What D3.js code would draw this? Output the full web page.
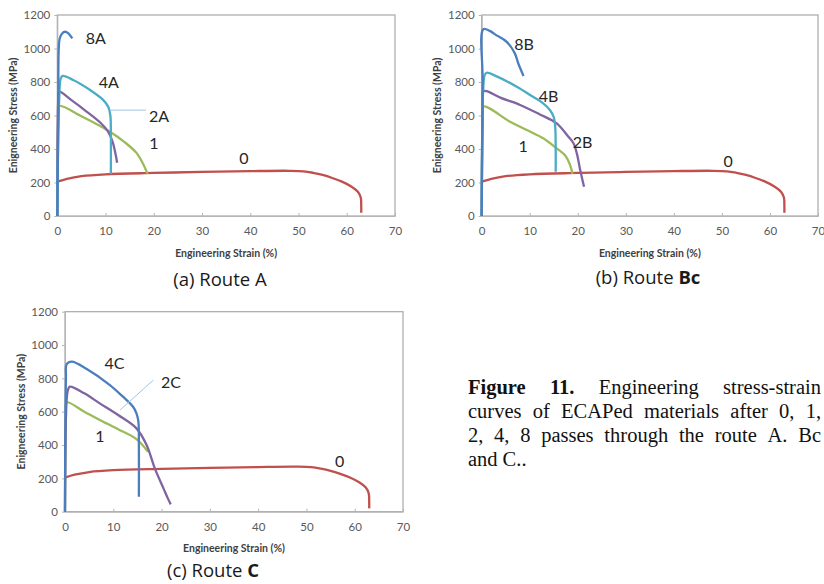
<!DOCTYPE html>
<html>
<head>
<meta charset="utf-8">
<script src="https://cdn.jsdelivr.net/npm/d3@7"></script>
<style>
  body { margin: 0; background: #fff; }
  svg { display: block; }
  .tick text { fill: #595959; font-family: Lato, "Open Sans", sans-serif; font-size: 11.5px; }
</style>
</head>
<body>
<svg width="824" height="584"></svg>
<script>
// axis ticks
const strainTicks = [0, 10, 20, 30, 40, 50, 60, 70]
const stressTicks = [0, 200, 400, 600, 800, 1000, 1200]

// [strain %, stress MPa]
const pass0 = [[0,205],[2,222],[5,238],[10,249],[20,257],[30,263],[40,268],[48,270],[51,267],[53,258],[55,245],[57,227],[59,205],[61,175],[62.3,145],[62.9,110],[63,60],[63,20]]

// route A
const a1 = [[0,0],[0.2,600],[0.35,657],[5,595],[10.9,503],[14,440],[16.5,374],[17.8,310],[18.7,251]]
const a2 = [[0,0],[0.2,700],[0.35,742],[3,690],[6,625],[9,555],[10.5,505],[11.5,440],[12,380],[12.4,318]]
const a4 = [[0,0],[0.4,700],[0.7,820],[1.1,836],[3.3,812],[6.8,752],[9.5,693],[10.6,649],[11.0,600],[11.1,500],[11.1,251]]
const a8 = [[0,0],[0.2,600],[0.3,1000],[0.5,1060],[1,1090],[1.6,1100],[2.3,1090],[3.1,1060]]

// route Bc
const b1 = [[0,0],[0.2,580],[0.35,653],[5.9,563],[9.5,512],[12.8,464],[15.6,404],[17.3,364],[18.4,304],[18.9,251]]
const b2 = [[0,0],[0.2,650],[0.35,745],[1,745],[4,705],[8,663],[12,608],[15.6,553],[18,475],[19.1,434],[19.8,374],[20.5,275],[21.3,175]]
const b4 = [[0,0],[0.3,750],[0.6,840],[1.0,855],[3,835],[7.3,772],[10.5,715],[12.8,673],[14.2,633],[15.0,590],[15.3,533],[15.4,400],[15.4,264]]
const b8 = [[0,0],[0.2,800],[0.35,1116],[1.7,1105],[3,1080],[5.2,1040],[6.9,971],[7.6,912],[8.2,870],[8.7,836]]

// route C
const c1 = [[0,0],[0.2,590],[0.35,656],[4,600],[7.2,550],[11,495],[14.8,436],[17.2,360]]
const c2 = [[0,0],[0.3,650],[0.6,730],[1.0,750],[4,710],[7.2,650],[11,580],[14.8,500],[16.9,400],[18.6,260],[20.4,140],[21.3,80],[21.9,44]]
const c4 = [[0,0],[0.2,800],[0.35,885],[1.4,900],[4.5,856],[9.3,760],[12,690],[14.1,630],[14.8,590],[15.2,540],[15.3,400],[15.3,90]]

// curve labels [text, strain, stress]
const labelsA = [['8A', 8.0, 1063], ['4A', 10.7, 800], ['2A', 21.1, 597], ['1', 20.0, 436], ['0', 38.7, 346]]
const labelsB = [['8B', 8.8, 1027], ['4B', 13.9, 716], ['2B', 21.0, 442], ['1', 8.6, 418], ['0', 51.3, 328]]
const labelsC = [['4C', 10.25, 890], ['2C', 21.95, 776], ['1', 7.25, 450], ['0', 56.9, 304]]

// leader lines [[strain, stress], [strain, stress]]
const leaderA = [[11.1, 632], [18.4, 632]]
const leaderC = [[11.4, 610], [18.3, 790]]

const captionLines = [
  ['Figure', '11.', 'Engineering', 'stress-strain'],
  ['curves', 'of', 'ECAPed', 'materials', 'after', '0,', '1,'],
  ['2,', '4,', '8', 'passes', 'through', 'the', 'route', 'A.', 'Bc'],
  ['and', 'C..']
]

const colors = { red: '#c0504d', green: '#9bbb59', purple: '#8064a2', cyan: '#4bacc6', blue: '#4a7ebf' }

const svg = d3.select('svg')

function drawPanel(cfg) {
  const g = svg.append('g')

  const x = d3.scaleLinear().domain([0, 70]).range([cfg.left, cfg.right])
  const y = d3.scaleLinear().domain([0, 1200]).range([cfg.bottom, cfg.top])

  // plot frame
  g.append('rect')
    .attr('x', cfg.left).attr('y', cfg.top)
    .attr('width', cfg.right - cfg.left).attr('height', cfg.bottom - cfg.top)
    .attr('fill', 'none').attr('stroke', '#a8a8a8').attr('stroke-width', 1.2)

  g.append('g')
    .attr('transform', `translate(0,${cfg.bottom})`)
    .call(d3.axisBottom(x).tickValues(strainTicks).tickFormat(d3.format('d'))
      .tickSizeInner(-3).tickSizeOuter(0).tickPadding(11))
    .call(a => a.selectAll('line, path').attr('stroke', '#b5b5b5'))

  g.append('g')
    .attr('transform', `translate(${cfg.left},0)`)
    .call(d3.axisLeft(y).tickValues(stressTicks).tickFormat(d3.format('d'))
      .tickSizeInner(3).tickSizeOuter(0).tickPadding(4))
    .call(a => a.selectAll('line, path').attr('stroke', '#b5b5b5'))

  const line = d3.line()
    .x(d => x(d[0]))
    .y(d => y(d[1]))
    .curve(d3.curveCatmullRom.alpha(0.5))

  cfg.series.forEach(s => {
    g.append('path')
      .attr('d', line(s.data))
      .attr('fill', 'none')
      .attr('stroke', s.color)
      .attr('stroke-width', 2.3)
      .attr('stroke-linejoin', 'round')
  })

  if (cfg.leader) {
    g.append('line')
      .attr('x1', x(cfg.leader[0][0])).attr('y1', y(cfg.leader[0][1]))
      .attr('x2', x(cfg.leader[1][0])).attr('y2', y(cfg.leader[1][1]))
      .attr('stroke', '#9fc6e4').attr('stroke-width', 1)
  }

  g.selectAll('.curve-label')
    .data(cfg.labels)
    .join('text')
    .attr('class', 'curve-label')
    .attr('x', d => x(d[1]))
    .attr('y', d => y(d[2]))
    .attr('dy', '0.36em')
    .attr('text-anchor', 'middle')
    .attr('font-family', 'Lato, "Open Sans", sans-serif')
    .attr('font-size', 16)
    .attr('fill', '#262626')
    .text(d => d[0])

  // axis titles
  g.append('text')
    .attr('x', (cfg.left + cfg.right) / 2)
    .attr('y', cfg.bottom + 37)
    .attr('dy', '0.35em')
    .attr('text-anchor', 'middle')
    .attr('font-family', 'Lato, "Open Sans", sans-serif')
    .attr('font-weight', 'bold')
    .attr('font-size', 10.5)
    .attr('fill', '#404040')
    .text('Engineering Strain (%)')

  g.append('text')
    .attr('transform', `translate(${cfg.left - 44},${(cfg.top + cfg.bottom) / 2}) rotate(-90)`)
    .attr('dy', '0.35em')
    .attr('text-anchor', 'middle')
    .attr('font-family', 'Lato, "Open Sans", sans-serif')
    .attr('font-weight', 'bold')
    .attr('font-size', 10.5)
    .attr('fill', '#404040')
    .text('Enigneering Stress (MPa)')

  const cap = g.append('text')
    .attr('x', cfg.captionX)
    .attr('y', cfg.captionY)
    .attr('dy', '0.35em')
    .attr('text-anchor', 'middle')
    .attr('font-family', '"Open Sans", Lato, sans-serif')
    .attr('font-size', 18.5)
    .attr('fill', '#1a1a1a')
  cap.append('tspan').text(cfg.caption[0])
  cap.append('tspan').attr('font-weight', 'bold').text(cfg.caption[1])
}

drawPanel({
  left: 57.3, right: 395, top: 15, bottom: 216, captionX: 220, captionY: 280,
  caption: ['(a) Route A', ''],
  series: [
    { data: pass0, color: colors.red },
    { data: a1, color: colors.green },
    { data: a2, color: colors.purple },
    { data: a4, color: colors.cyan },
    { data: a8, color: colors.blue }
  ],
  labels: labelsA, leader: leaderA
})

drawPanel({
  left: 481.7, right: 818, top: 15, bottom: 216, captionX: 648, captionY: 278,
  caption: ['(b) Route ', 'Bc'],
  series: [
    { data: pass0, color: colors.red },
    { data: b1, color: colors.green },
    { data: b2, color: colors.purple },
    { data: b4, color: colors.cyan },
    { data: b8, color: colors.blue }
  ],
  labels: labelsB
})

drawPanel({
  left: 65, right: 403, top: 311.7, bottom: 511.7, captionX: 213, captionY: 571,
  caption: ['(c) Route ', 'C'],
  series: [
    { data: pass0, color: colors.red },
    { data: c1, color: colors.green },
    { data: c2, color: colors.purple },
    { data: c4, color: colors.blue }
  ],
  labels: labelsC, leader: leaderC
})

// figure caption, justified
const capLeft = 468, capRight = 821, capTop = 387, capStep = 24
captionLines.forEach((words, i) => {
  const row = svg.append('g')
  const items = words.map((w, j) => {
    const bold = i === 0 && j < 2
    const t = row.append('text')
      .attr('y', capTop + i * capStep)
      .attr('dy', '0.35em')
      .attr('font-family', '"Liberation Serif", "Times New Roman", serif')
      .attr('font-size', 20.5)
      .attr('font-weight', bold ? 'bold' : 'normal')
      .attr('fill', '#111')
      .text(w)
    return { t, w: t.node().getComputedTextLength() }
  })
  const last = i === captionLines.length - 1
  const total = d3.sum(items, d => d.w)
  const gap = last ? 5 : (capRight - capLeft - total) / (items.length - 1)
  let cx = capLeft
  items.forEach(d => {
    d.t.attr('x', cx)
    cx += d.w + gap
  })
})
</script>
</body>
</html>
